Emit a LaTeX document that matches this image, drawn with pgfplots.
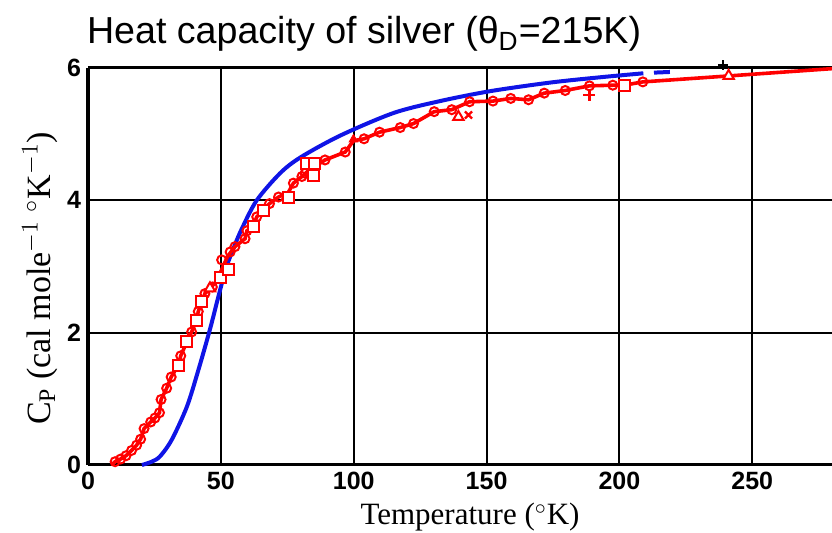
\documentclass[border=0pt]{standalone}
\usepackage{fontspec}
\setmainfont{Liberation Serif}
\setsansfont{Liberation Sans}
\usepackage{pgfplots}
\pgfplotsset{compat=1.18}
\usetikzlibrary{calc}
\definecolor{cred}{RGB}{255,0,0}
\definecolor{cblue}{RGB}{15,20,230}

\begin{document}
\begin{tikzpicture}
\begin{axis}[
  scale only axis, width=372pt, height=198.5pt,
  xmin=0, xmax=280, ymin=0, ymax=6,
  xtick={0,50,100,150,200,250}, ytick={0,2,4},
  extra y ticks={6},
  axis x line*=bottom, axis y line*=left,
  axis line style={line width=1.5pt,-},
  grid=major, grid style={black, line width=1pt},
  extra y tick style={grid style={black, line width=1.5pt}},
  major tick length=0pt,
  tick label style={font=\sffamily\bfseries\fontsize{12.5}{14}\selectfont},
  /pgf/number format/assume math mode=true,
  clip=false,
  title={\sffamily Heat capacity of silver (θ\textsubscript{D}=215K)},
  title style={at={(axis description cs:0,1)}, anchor=base west, xshift=-4pt, yshift=6pt,
    font=\fontsize{18.8}{22}\selectfont},
  xlabel={Temperature ($^\circ$K)},
  xlabel style={at={(axis description cs:0.5,0)}, anchor=base, xshift=5pt, yshift=-30pt,
    font=\fontsize{15.5}{18}\selectfont},
  ylabel={C$_\mathrm{P}$ (cal mole$^{-1}$ $^\circ$K$^{-1}$)},
  ylabel style={at={(axis description cs:-0.051,0.47)}, anchor=base, rotate=0,
    font=\fontsize{17}{20}\selectfont},
]
% Debye curve
\addplot[cblue, line width=2pt, smooth] coordinates {
(20.3,0) (24,0.05) (27.1,0.13) (31.5,0.38) (37.2,0.88) (41.5,1.43) (45.9,2.05)
(49.1,2.55) (52,2.98) (55,3.3) (58,3.58) (63.5,4.0) (72.3,4.41) (80,4.65)
(95,4.98) (115,5.32) (132.5,5.5) (151.4,5.65) (174,5.78) (192.8,5.86) (209,5.92)};
\addplot[cblue, line width=2pt] coordinates {(213,5.93) (219,5.94)};
% measured, line through points
\addplot[cred, line width=1.8pt] coordinates {
(8.9,0) (10.2,0.05) (12.3,0.09) (14.3,0.14) (16.4,0.22) (18.3,0.30) (19.8,0.39)
(21.1,0.55) (23.6,0.65) (25.2,0.71) (26.9,0.79) (27.5,0.99) (29.6,1.16) (31.3,1.33)
(34.0,1.51) (34.9,1.65) (37.2,1.86) (39.0,2.01) (40.9,2.19) (41.5,2.32) (42.8,2.47)
(44.0,2.59) (45.9,2.67) (48,2.76) (50.3,2.95) (52.5,3.15) (55.3,3.30) (59.1,3.42)
(59.8,3.54) (62.2,3.61) (63.5,3.75) (66.0,3.85) (68.3,3.95) (71.7,4.05) (75.4,4.12)
(77.3,4.26) (80.5,4.36) (83,4.45) (89.2,4.61) (96.8,4.73) (99.9,4.90) (103.9,4.93)
(109.7,5.03) (117.5,5.10) (122.5,5.16) (130.3,5.34) (136.9,5.37) (143.6,5.49)
(152.4,5.50) (159.1,5.54) (165.8,5.52) (171.7,5.62) (179.6,5.66) (188.7,5.73)
(197.5,5.74) (201.8,5.74) (208.8,5.79) (241.1,5.88) (280,5.99)};
% circles
\addplot[only marks, mark=o, mark size=2.25pt, cred, line width=1pt,
  mark options={fill=white}] coordinates {
(10.2,0.05) (12.3,0.09) (14.3,0.14) (16.4,0.22) (18.3,0.30) (19.8,0.39)
(21.1,0.55) (23.6,0.65) (25.2,0.71) (26.9,0.79) (27.5,0.99) (29.6,1.16) (31.3,1.33)
(34.9,1.65) (39.0,2.01) (41.5,2.32) (44.0,2.59) (46.8,2.69) (50.3,3.10) (53.5,3.22)
(55.3,3.30) (59.1,3.42) (59.8,3.54) (63.5,3.75) (68.3,3.95) (71.7,4.05)
(77.3,4.26) (80.5,4.36) (81.7,4.41) (89.2,4.61) (96.8,4.73) (103.9,4.93)
(109.7,5.03) (117.5,5.10) (122.5,5.16) (130.3,5.34) (136.9,5.37) (143.6,5.49)
(152.4,5.50) (159.1,5.54) (165.8,5.52) (171.7,5.62) (179.6,5.66) (188.7,5.73)
(197.5,5.74) (208.8,5.79)};
% squares
\addplot[only marks, mark=square*, mark size=2.75pt, cred, line width=1pt,
  mark options={fill=white}] coordinates {
(34.0,1.51) (37.2,1.86) (40.9,2.19) (42.8,2.47) (49.7,2.84) (52.8,2.95)
(62.2,3.61) (66.0,3.85) (75.4,4.04) (82.1,4.55) (84.8,4.37) (85.1,4.55) (201.8,5.74)};
% triangles
\addplot[only marks, mark=triangle*, mark size=3pt, cred, line width=1pt,
  mark options={fill=white}] coordinates {(45.9,2.67) (139.4,5.26) (241.1,5.88)};
\addplot[only marks, mark=triangle*, mark size=2.5pt, cred] coordinates {(99.9,4.92)};
% crosses
\addplot[only marks, mark=+, mark size=3pt, cred, line width=1.2pt] coordinates {(188.7,5.59)};
\addplot[only marks, mark=x, mark size=2.5pt, cred, line width=1.2pt] coordinates {(143.2,5.29)};
\addplot[only marks, mark=+, mark size=2.5pt, black, line width=1pt] coordinates {(239,6.04)};
\end{axis}
\pgfresetboundingbox
\path[use as bounding box] ($(current axis.south west)+(-44pt,-34pt)$)
  rectangle ($(current axis.north east)+(0pt,34pt)$);
\end{tikzpicture}
\end{document}
